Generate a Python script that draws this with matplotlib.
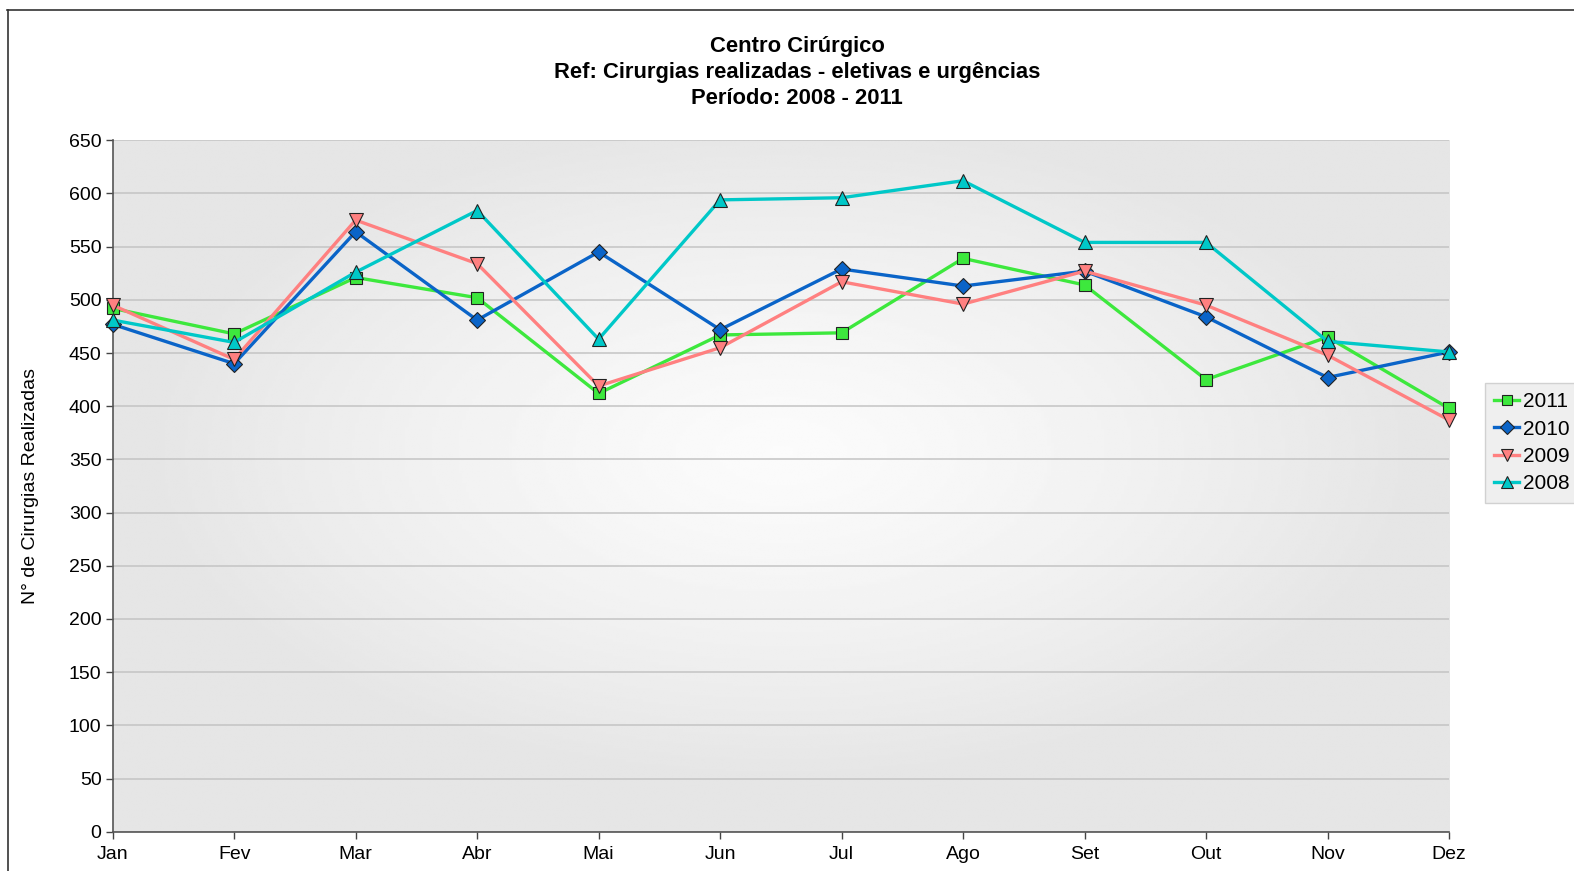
import numpy as np
import matplotlib
matplotlib.use('Agg')
import matplotlib.pyplot as plt
from matplotlib.lines import Line2D

plt.rcParams['font.family'] = ['Liberation Sans', 'DejaVu Sans']

# data
months = ['Jan', 'Fev', 'Mar', 'Abr', 'Mai', 'Jun', 'Jul', 'Ago', 'Set', 'Out', 'Nov', 'Dez']
y2011 = [492, 468, 521, 502, 412, 467, 469, 539, 514, 425, 465, 398]
y2010 = [477, 440, 564, 481, 545, 472, 529, 513, 527, 484, 427, 451]
y2009 = [495, 444, 575, 534, 419, 455, 517, 496, 527, 495, 448, 387]
y2008 = [481, 460, 526, 584, 463, 594, 596, 612, 554, 554, 461, 451]

series = [
    ('2011', y2011, '#3de83d', 's', 9),
    ('2010', y2010, '#0a64c8', 'D', 8),
    ('2009', y2009, '#ff8080', 'v', 10),
    ('2008', y2008, '#00c8c8', '^', 10),
]

W, H = 1574, 871
fig = plt.figure(figsize=(W / 100, H / 100), dpi=100)
ax = fig.add_axes([112.7 / W, 1 - 831.7 / H, (1449 - 112.7) / W, (831.7 - 140.3) / H])

# radial grey gradient behind the plot
gx, gy = np.meshgrid(np.linspace(-1, 1, 400), np.linspace(-1, 1, 300))
r = np.clip(np.sqrt((gx / 0.95) ** 2 + ((gy + 0.1) / 0.95) ** 2), 0, 1)
shade = 0.985 - (0.985 - 0.9) * r ** 1.3
ax.imshow(shade, cmap='gray', vmin=0, vmax=1, extent=[0, 1, 0, 1],
          transform=ax.transAxes, aspect='auto', zorder=0, interpolation='bilinear')

x = np.arange(len(months))
for label, vals, color, marker, ms in series:
    ax.plot(x, vals, color=color, lw=2.4, marker=marker, markersize=ms,
            markerfacecolor=color, markeredgecolor='#222222', markeredgewidth=0.8,
            label=label, zorder=3, clip_on=False)

ax.set_xlim(0, len(months) - 1)
ax.set_ylim(0, 650)
ax.set_yticks(np.arange(0, 651, 50))
ax.set_xticks(x)
ax.set_xticklabels(months)
ax.yaxis.grid(True, color='#c4c4c4', lw=1.1, zorder=1)
ax.set_axisbelow(True)
ax.tick_params(axis='both', labelsize=14, length=5, width=1, color='#444444')
ax.tick_params(axis='x', pad=5)
ax.tick_params(axis='y', pad=3)

for s in ['top', 'right']:
    ax.spines[s].set_visible(False)
for s in ['left', 'bottom']:
    ax.spines[s].set_color('#555555')
    ax.spines[s].set_linewidth(1.2)

ax.set_ylabel('N° de Cirurgias Realizadas', fontsize=14)
ax.yaxis.set_label_coords(-0.0555, 0.5)

fig.text(797 / W, 1 - 72.5 / H, 'Centro Cirúrgico\nRef: Cirurgias realizadas - eletivas e urgências\nPeríodo: 2008 - 2011',
         ha='center', va='center', fontsize=15.8, fontweight='bold', linespacing=1.3)

leg = fig.legend(loc='upper left', bbox_to_anchor=(1485 / W, 1 - 383 / H), fontsize=15,
                 handlelength=1.2, handletextpad=0.15, labelspacing=0.4, borderpad=0.45,
                 markerscale=0.85, frameon=True, fancybox=False, borderaxespad=0)
leg.get_frame().set_facecolor('#ececec')
leg.get_frame().set_edgecolor('#c8c8c8')
leg.get_frame().set_linewidth(1)

# outer chart border (top and left edges visible)
fig.add_artist(Line2D([7 / W, 1], [1 - 10.5 / H, 1 - 10.5 / H], color='#333333', lw=1.2))
fig.add_artist(Line2D([7.5 / W, 7.5 / W], [0, 1 - 10.5 / H], color='#333333', lw=1.2))

fig.savefig('out.png', dpi=100)
